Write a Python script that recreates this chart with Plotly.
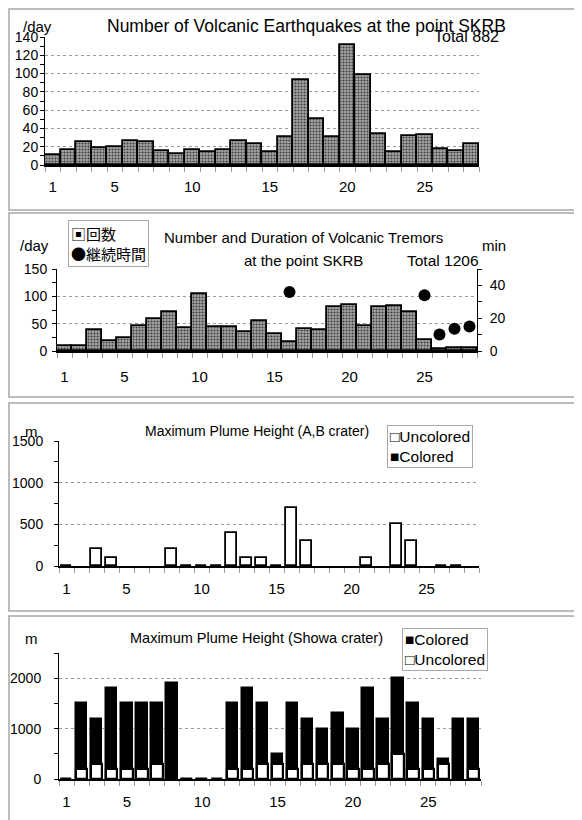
import plotly.graph_objects as go

W, H = 582, 820
OFF = 8  # the page places the figure 8px in from the top-left corner

# ---------------- data ----------------
days = list(range(1, 29))
day_ticks = [1, 5, 10, 15, 20, 25]

eq_counts = [11, 16, 25, 19, 20, 26, 25, 15, 12, 16, 14, 16, 26, 23, 14,
             31, 93, 50, 31, 131, 98, 34, 14, 32, 33, 18, 15, 23]

tremor_counts = [10, 9, 39, 18, 24, 45, 59, 71, 42, 105, 44, 44, 34, 54, 31,
                 16, 41, 39, 81, 85, 45, 81, 83, 72, 20, 3, 6, 5]
tremor_minutes = [None, None, None, None, None, None, None, None, None, None,
                  None, None, None, None, None, 36, None, None, None, None,
                  None, None, None, None, 34, 10, 13.5, 15]

ab_uncolored = [0, None, 200, 100, None, None, None, 200, 0, 0, 0, 400, 100, 100,
                0, 700, 300, None, None, None, 100, None, 500, 300, None, 0, 0, None]
ab_colored = [None] * 28

showa_colored = [0, 1500, 1200, 1800, 1500, 1500, 1500, 1900, 0, 0, 0, 1500, 1800, 1500,
                 500, 1500, 1200, 1000, 1300, 1000, 1800, 1200, 2000, 1500, 1200, 400, 1200, 1200]
showa_uncolored = [None, 200, 300, 200, 200, 200, 300, None, None, None, None, 200, 200, 300,
                   300, 200, 300, 300, 300, 200, 200, 300, 500, 200, 200, 300, None, 200]

# ---------------- styling helpers ----------------
SANS = "Liberation Sans, Arial, sans-serif"
CJK = "Noto Sans CJK JP, Noto Sans CJK SC, sans-serif"


def px(x):
    return (x - OFF) / W


def py(y):
    return 1 - (y - OFF) / H


def xd(l, r):
    return [px(l), px(r)]


def yd(top, bottom):
    return [py(bottom), py(top)]


pattern = dict(shape=".", fgcolor="#404040", bgcolor="#a6a6a6", size=3, solidity=0.4)

fig = go.Figure()

# Panel 1: earthquakes
fig.add_trace(go.Bar(x=days, y=eq_counts, width=1, xaxis="x", yaxis="y",
                     marker=dict(color="#8c8c8c", pattern=pattern,
                                 line=dict(color="black", width=1.8)),
                     showlegend=False))

# Panel 2: tremors
fig.add_trace(go.Bar(x=days, y=tremor_counts, width=1, xaxis="x2", yaxis="y2",
                     marker=dict(color="#8c8c8c", pattern=pattern,
                                 line=dict(color="black", width=1.8)),
                     name="回数", showlegend=False))
fig.add_trace(go.Scatter(x=days, y=tremor_minutes, mode="markers", xaxis="x2", yaxis="y5",
                         marker=dict(color="black", size=12), name="継続時間",
                         showlegend=False))

# Panel 3: A,B crater
fig.add_trace(go.Bar(x=days, y=ab_colored, width=0.72, xaxis="x3", yaxis="y3",
                     marker=dict(color="black", line=dict(color="black", width=1.8)),
                     name="Colored", showlegend=False))
fig.add_trace(go.Bar(x=days, y=ab_uncolored, width=0.72, xaxis="x3", yaxis="y3",
                     marker=dict(color="white", line=dict(color="black", width=1.8)),
                     name="Uncolored", showlegend=False))

# Panel 4: Showa crater
fig.add_trace(go.Bar(x=days, y=showa_colored, width=0.76, xaxis="x4", yaxis="y4",
                     marker=dict(color="black", line=dict(color="black", width=1.5)),
                     name="Colored", showlegend=False))
fig.add_trace(go.Bar(x=days, y=showa_uncolored, width=0.76, xaxis="x4", yaxis="y4",
                     marker=dict(color="white", line=dict(color="black", width=2.2)),
                     name="Uncolored", showlegend=False))


def xaxis(dom, anchor, standoff):
    return dict(domain=dom, anchor=anchor, range=[0.5, 28.5], automargin=False,
                tickmode="array", tickvals=day_ticks, ticktext=[str(d) for d in day_ticks],
                ticks="", showline=True, linecolor="black", linewidth=1.5,
                showgrid=False, zeroline=False,
                tickfont=dict(family=SANS, size=15, color="black"),
                ticklabelstandoff=standoff,
                minor=dict(tick0=0.5, dtick=1, ticks="outside", ticklen=5,
                           tickcolor="#9a9a9a", tickwidth=1, showgrid=False),
                fixedrange=True)


def yaxis(dom, anchor, rng, dtick, mdtick, standoff):
    return dict(domain=dom, anchor=anchor, range=rng, dtick=dtick, tick0=0, automargin=False,
                side="left", ticks="outside", ticklen=4, tickcolor="black", tickwidth=1,
                showline=True, linecolor="black", linewidth=1,
                showgrid=True, gridcolor="#9a9a9a", griddash="dot", gridwidth=1,
                zeroline=False,
                tickfont=dict(family=SANS, size=14, color="black"),
                ticklabelstandoff=standoff,
                minor=dict(dtick=mdtick, tick0=0, ticks="outside", ticklen=4,
                           tickcolor="black", tickwidth=1, showgrid=False),
                fixedrange=True)


fig.update_layout(
    template="none",
    width=W, height=H, autosize=False,
    margin=dict(l=0, r=0, t=0, b=0, pad=0),
    paper_bgcolor="white", plot_bgcolor="white",
    barmode="overlay", bargap=0,
    showlegend=False,
    xaxis=xaxis(xd(45, 479), "y", 7),
    yaxis=yaxis(yd(37, 165), "x", [0, 140], 20, 10, -1),
    xaxis2=xaxis(xd(57, 477), "y2", 11),
    yaxis2=yaxis(yd(269, 351), "x2", [0, 150], 50, 25, 2),
    yaxis5=dict(overlaying="y2", anchor="x2", side="right", range=[0, 50], dtick=20, tick0=0,
                automargin=False,
                ticks="outside", ticklen=4, tickcolor="black", showline=True,
                linecolor="black", linewidth=1, showgrid=False, zeroline=False,
                tickfont=dict(family=SANS, size=14, color="black"),
                ticklabelstandoff=5,
                minor=dict(dtick=10, tick0=0, ticks="outside", ticklen=4, tickcolor="black"),
                fixedrange=True),
    xaxis3=xaxis(xd(59, 479), "y3", 8),
    yaxis3=yaxis(yd(441, 566), "x3", [0, 1500], 500, 250, 8),
    xaxis4=xaxis(xd(59, 481), "y4", 8),
    yaxis4=yaxis(yd(653, 779), "x4", [0, 2500], 1000, 500, 10),
)

# ---------------- panel frames ----------------
frames = [(9, 9, 592, 210), (9, 213, 592, 397), (9, 403, 592, 611), (9, 616, 592, 840)]
for (x0, y0, x1, y1) in frames:
    fig.add_shape(type="rect", xref="paper", yref="paper",
                  x0=px(x0), x1=px(x1), y0=py(y1), y1=py(y0),
                  line=dict(color="#a8a8a8", width=1.5), fillcolor="rgba(0,0,0,0)", layer="below")


def ann(x, y, text, xanchor="center", size=16, family=SANS, yanchor="middle", **kw):
    fig.add_annotation(xref="paper", yref="paper", x=px(x), y=py(y), text=text,
                       showarrow=False, xanchor=xanchor, yanchor=yanchor,
                       font=dict(family=family, size=size, color="black"), **kw)


# Panel 1 texts
ann(306, 26, "Number of Volcanic Earthquakes at the point SKRB", size=17.5)
ann(21, 26, "/day", xanchor="left", size=15)
ann(501, 36, "Total 882", xanchor="right", size=16)

# Panel 2 texts
ann(303, 237, "Number and Duration of Volcanic Tremors", size=15)
ann(303, 260, "at the point SKRB", size=15)
ann(481, 260, "Total 1206", xanchor="right", size=15.5)
ann(18, 245, "/day", xanchor="left", size=15)
ann(480, 245, "min", xanchor="left", size=15)
ann(68, 220, "▣回数<br>●継続時間", xanchor="left", yanchor="top", size=15, family=CJK,
    align="left", bordercolor="#a8a8a8", borderwidth=1, borderpad=2, bgcolor="white")

# Panel 3 texts
ann(257, 431, "Maximum Plume Height (A,B crater)", size=14)
ann(23, 431, "m", xanchor="left", size=15)
ann(387, 425, "□Uncolored<br>■Colored", xanchor="left", yanchor="top", size=15.5, family=SANS,
    align="left", bordercolor="#a8a8a8", borderwidth=1, borderpad=2, bgcolor="white")

# Panel 4 texts
ann(256, 638, "Maximum Plume Height (Showa crater)", size=14.5)
ann(23, 638, "m", xanchor="left", size=15)
ann(402, 628, "■Colored<br>□Uncolored", xanchor="left", yanchor="top", size=15.5, family=SANS,
    align="left", bordercolor="#a8a8a8", borderwidth=1, borderpad=2, bgcolor="white")

fig.write_html("out.html")
